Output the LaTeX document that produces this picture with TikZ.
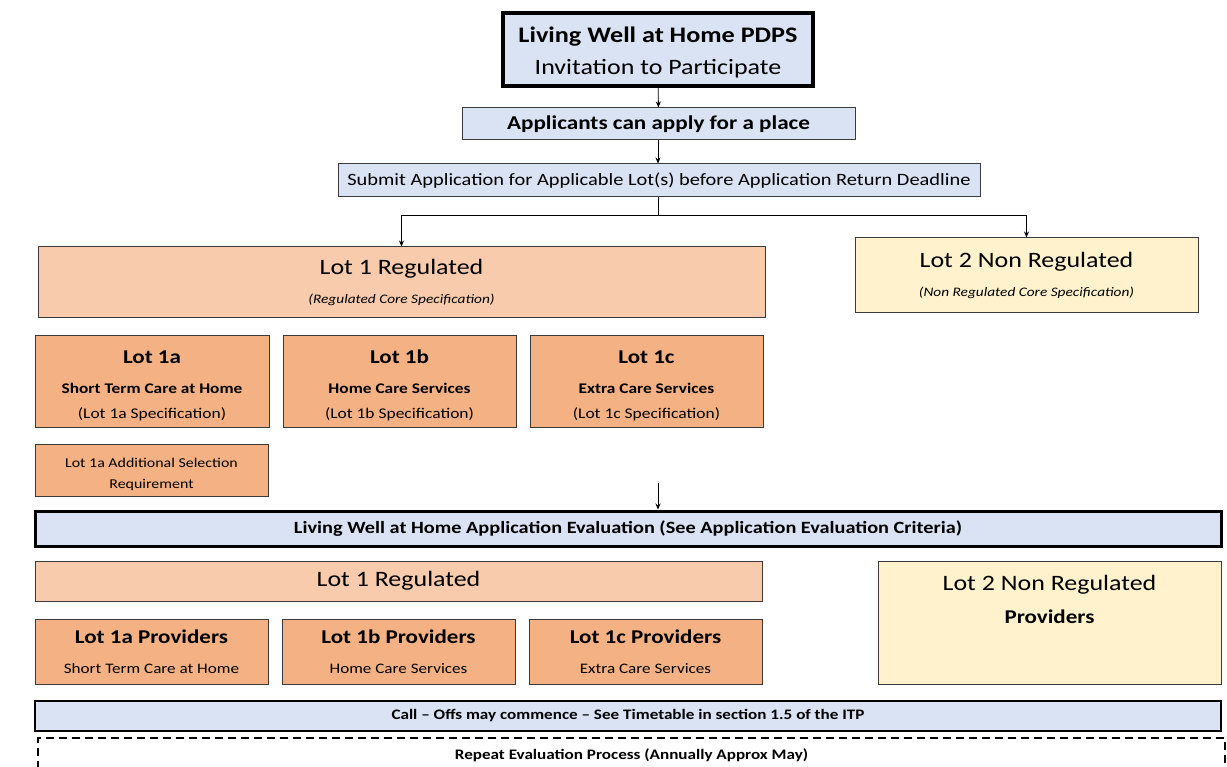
\documentclass[tikz,border=0pt]{standalone}
\usepackage{fontspec}
\setmainfont{Carlito}[FakeStretch=1.18]
\usetikzlibrary{positioning,arrows.meta}

\definecolor{itpblue}{HTML}{DAE3F3}
\definecolor{lotpeach}{HTML}{F8CBAD}
\definecolor{lotorange}{HTML}{F4B183}
\definecolor{lotcream}{HTML}{FFF2CC}
\definecolor{boxline}{HTML}{3A3A3A}
\newcommand{\fs}[2]{\fontsize{#1}{#2}\selectfont}

\begin{document}
\begin{tikzpicture}[x=1pt, y=-1pt,
  every text node part/.style={align=center},
  box/.style={draw=boxline, line width=1pt, rectangle, inner sep=0pt},
  bluebox/.style={box, fill=itpblue},
  peachbox/.style={box, fill=lotpeach},
  orangebox/.style={box, fill=lotorange},
  creambox/.style={box, fill=lotcream},
  arr/.style={-{Stealth[length=6pt,width=5pt]}, line width=0.8pt}]
  \useasboundingbox (0,0) rectangle (1227,767);

  \node (itp) [bluebox, draw=black, line width=3.5pt, minimum width=310, minimum height=73, font=\fs{22}{32}]
    at (658,49.5) {\rule{0pt}{21pt}{\fs{22.2}{32}\bfseries Living Well at Home PDPS}\\ Invitation to Participate};
  \node (apply) [bluebox, minimum width=393, minimum height=32, font=\fs{19.6}{22}\bfseries]
    at (658.5,124) {Applicants can apply for a place};
  \node (submit) [bluebox, minimum width=642, minimum height=33, font=\fs{17.3}{20}]
    at (659,180.5) {Submit Application for Applicable Lot(s) before Application Return Deadline};

  \node (lot1) [peachbox, minimum width=727, minimum height=71, font=\fs{13}{29}]
    at (401.5,282.5) {{\fs{22}{26}Lot 1 Regulated}\\ \itshape (Regulated Core Specification)};
  \node (lot2) [creambox, minimum width=343, minimum height=75, font=\fs{13}{29}]
    at (1026.5,275.5) {{\fs{22}{26}Lot 2 Non Regulated}\\ \itshape (Non Regulated Core Specification)};

  \node (lot1a) [orangebox, minimum width=234, minimum height=91, font=\fs{14.8}{25}]
    at (152,381.5) {\rule{0pt}{20.5pt}{\fs{19.5}{22}\bfseries Lot 1a}\\[5pt] {\fs{14.7}{25}\bfseries Short Term Care at Home}\\ (Lot 1a Specification)};
  \node (lot1b) [orangebox, minimum width=233, minimum height=91, font=\fs{14.8}{25}]
    at (399.5,381.5) {\rule{0pt}{20.5pt}{\fs{19.5}{22}\bfseries Lot 1b}\\[5pt] {\fs{14.7}{25}\bfseries Home Care Services}\\ (Lot 1b Specification)};
  \node (lot1c) [orangebox, minimum width=233, minimum height=91, font=\fs{14.8}{25}]
    at (646.5,381.5) {\rule{0pt}{20.5pt}{\fs{19.5}{22}\bfseries Lot 1c}\\[5pt] {\fs{14.7}{25}\bfseries Extra Care Services}\\ (Lot 1c Specification)};
  \node (extra1a) [orangebox, minimum width=233, minimum height=52, font=\fs{13.5}{21}]
    at (151.5,470) {\rule{0pt}{18pt}Lot 1a Additional Selection\\ Requirement};

  \node (eval) [bluebox, draw=black, line width=3pt, minimum width=1186, minimum height=35, font=\fs{17.2}{20}\bfseries]
    at (628,528.5) {Living Well at Home Application Evaluation (See Application Evaluation Criteria)};

  \node (prov1) [peachbox, minimum width=727, minimum height=40, font=\fs{22}{26}]
    at (398.5,581) {Lot 1 Regulated};
  \node (prov2) [creambox, minimum width=343, minimum height=123,
    label={[anchor=north, yshift=-11pt, font=\fs{22}{33}]north:Lot 2 Non Regulated\\ {\fs{19.5}{22}\bfseries Providers}}]
    at (1049.5,622.5) {};
  \node (prov1a) [orangebox, minimum width=233, minimum height=65, font=\fs{14.5}{30}]
    at (151.5,652) {{\fs{19.5}{22}\bfseries Lot 1a Providers}\\ Short Term Care at Home};
  \node (prov1b) [orangebox, minimum width=233, minimum height=65, font=\fs{14.5}{30}]
    at (398.5,652) {{\fs{19.5}{22}\bfseries Lot 1b Providers}\\ Home Care Services};
  \node (prov1c) [orangebox, minimum width=233, minimum height=65, font=\fs{14.5}{30}]
    at (645.5,652) {{\fs{19.5}{22}\bfseries Lot 1c Providers}\\ Extra Care Services};

  \node (calloff) [bluebox, draw=black, line width=2pt, minimum width=1186, minimum height=30, font=\fs{14.5}{18}\bfseries]
    at (628,716) {Call -- Offs may commence -- See Timetable in section 1.5 of the ITP};
  \node (repeat) [box, draw=black, line width=1.5pt, dash pattern=on 8pt off 5pt, fill=white,
    minimum width=1187, minimum height=34, font=\fs{14.5}{18}\bfseries]
    at (631.5,755) {Repeat Evaluation Process (Annually Approx May)};

  % connectors
  \coordinate (split) at (658,215);
  \coordinate (gap) at (658,483);
  \draw[arr] (itp) -- (apply);
  \draw[arr] (apply.south -| itp.south) -- (submit.north -| itp.south);
  \draw[line width=0.8pt] (submit.south -| itp.south) -- (split);
  \draw[arr] (split) -| (lot1.north);
  \draw[arr] (split) -| (lot2.north);
  \draw[arr] (gap) -- (gap |- eval.north);
\end{tikzpicture}
\end{document}
